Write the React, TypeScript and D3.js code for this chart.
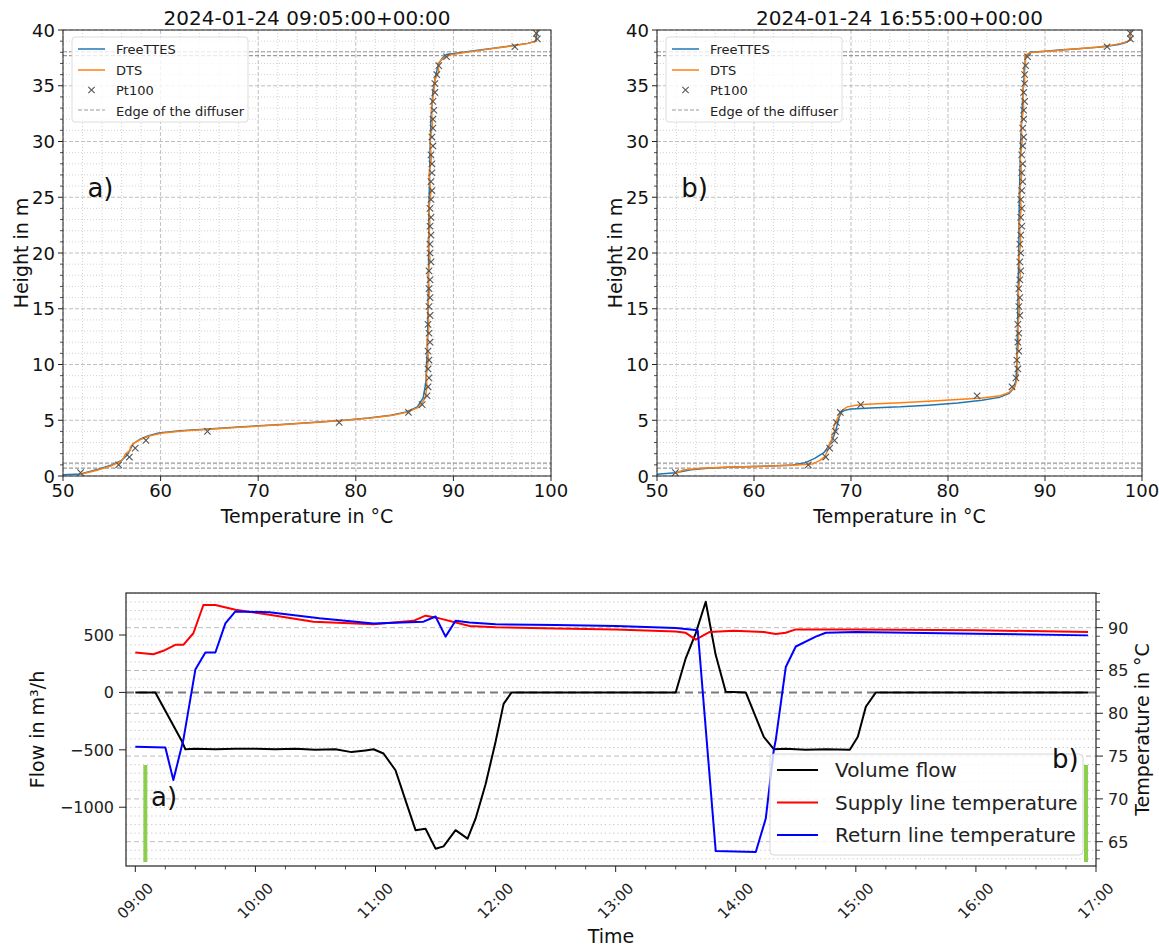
import React from "react";
import * as d3 from "d3";

const FONT = "DejaVu Sans, Verdana, sans-serif";

// ---- stratification profiles: [height in m, temperature in °C] ----
const freeA: [number, number][] = [
  [0.12, 50.0], [0.18, 51.8], [0.6, 53.6], [1.0, 55.0], [1.4, 56.0], [1.9, 56.6], [2.4, 56.9],
  [2.9, 57.2], [3.3, 57.9], [3.6, 58.7], [3.85, 59.8], [4.05, 62.0], [4.2, 64.5], [4.4, 68.0],
  [4.6, 72.0], [4.8, 75.5], [5.0, 78.8], [5.2, 81.3], [5.45, 83.6], [5.75, 85.2], [6.2, 86.3],
  [7.0, 86.9], [8.5, 87.2], [12, 87.35], [18, 87.45], [24, 87.5], [29, 87.6], [32, 87.7],
  [34.5, 87.9], [36, 88.2], [37.0, 88.5], [37.5, 88.9], [37.8, 89.3], [38.0, 91.0], [38.2, 92.7],
  [38.4, 94.5], [38.6, 96.1], [38.8, 97.6], [39.0, 98.4], [39.3, 98.5], [40, 98.6],
];
const dtsA: [number, number][] = [
  [0.15, 51.8], [0.5, 53.4], [0.9, 54.9], [1.3, 55.9], [1.6, 56.2], [2.0, 56.4], [2.3, 56.9],
  [2.6, 56.9], [2.9, 57.2], [3.3, 58.0], [3.6, 58.9], [3.85, 60.2], [4.05, 62.5], [4.2, 65.0],
  [4.4, 68.5], [4.6, 72.3], [4.8, 75.7], [5.0, 79.0], [5.2, 81.5], [5.45, 83.8], [5.75, 85.4],
  [6.2, 86.5], [7.0, 87.1], [8.0, 87.3], [9.0, 87.2], [10.5, 87.45], [12, 87.3], [13.5, 87.5],
  [15, 87.35], [16.5, 87.55], [18, 87.4], [19.5, 87.6], [21, 87.4], [22.5, 87.6], [24, 87.5],
  [25.5, 87.7], [27, 87.5], [28.5, 87.75], [30, 87.6], [31.5, 87.85], [33, 87.75], [34.5, 88.0],
  [35.5, 88.1], [36.3, 88.5], [37.0, 88.4], [37.5, 89.0], [37.75, 89.6], [37.95, 91.0],
  [38.15, 92.5], [38.4, 94.6], [38.6, 96.3], [38.8, 97.7], [39.0, 98.5], [39.2, 98.5],
  [39.5, 98.3], [40, 98.7],
];
const freeB: [number, number][] = [
  [0.15, 50.0], [0.3, 51.9], [0.55, 53.5], [0.72, 55.5], [0.8, 58.0], [0.88, 61.0], [0.99, 64.0],
  [1.2, 65.3], [1.6, 66.3], [2.1, 67.2], [2.8, 67.8], [3.5, 68.2], [4.3, 68.5], [5.2, 68.75],
  [5.7, 69.0], [5.9, 69.4], [6.0, 70.0], [6.1, 72.0], [6.2, 75.1], [6.35, 78.0], [6.55, 81.0],
  [6.8, 83.5], [7.05, 85.3], [7.4, 86.3], [7.9, 86.8], [8.6, 87.0], [10, 87.1], [15, 87.2],
  [20, 87.3], [25, 87.35], [30, 87.5], [34, 87.7], [36.5, 87.9], [37.6, 88.0], [38.0, 88.5],
  [38.1, 90.0], [38.2, 91.5], [38.35, 93.8], [38.5, 96.0], [38.7, 97.6], [38.9, 98.4],
  [39.1, 98.8], [40, 98.8],
];
const dtsB: [number, number][] = [
  [0.22, 51.9], [0.54, 52.7], [0.7, 54.5], [0.78, 57.0], [0.85, 60.0], [0.95, 63.5], [1.07, 66.0],
  [1.4, 66.8], [1.73, 67.3], [2.3, 67.6], [2.93, 67.8], [3.4, 68.1], [3.7, 68.0], [4.0, 68.3],
  [4.3, 68.2], [4.57, 68.3], [4.87, 68.4], [5.3, 68.7], [5.77, 68.9], [6.2, 69.6], [6.35, 70.5],
  [6.43, 71.6], [6.57, 75.1], [6.7, 78.0], [6.85, 81.0], [7.0, 83.5], [7.2, 85.4], [7.5, 86.3],
  [8.0, 86.9], [9.0, 87.2], [10.5, 87.1], [12, 87.3], [13.5, 87.2], [15, 87.4], [16.5, 87.25],
  [18, 87.45], [19.5, 87.3], [21, 87.5], [22.5, 87.35], [24, 87.55], [25.5, 87.4], [27, 87.6],
  [28.5, 87.45], [30, 87.65], [31.5, 87.55], [33, 87.8], [34.5, 87.7], [35.5, 87.9], [36.5, 87.8],
  [37.2, 88.0], [37.7, 87.9], [37.95, 88.4], [38.05, 89.5], [38.15, 91.0], [38.3, 93.0],
  [38.45, 95.3], [38.6, 96.7], [38.8, 97.8], [39.0, 98.6], [39.3, 98.9], [39.6, 98.7], [40, 99.0],
];

// Pt100 sensor heights and readings
const sensorHeights = [
  0.3, 1.0, 1.7, 2.5, 3.2, 4.0, 4.8, 5.7, 6.4, 7.2, 8.0, 8.8, 9.6, 10.4, 11.2, 12.0, 12.8, 13.6,
  14.4, 15.2, 16.0, 16.8, 17.6, 18.4, 19.2, 20.0, 20.8, 21.6, 22.4, 23.2, 24.0, 24.8, 25.6, 26.4,
  27.2, 28.0, 28.8, 29.6, 30.4, 31.2, 32.0, 32.8, 33.6, 34.4, 35.2, 36.0, 36.8, 37.6, 38.5, 39.2, 39.7,
];
const pt100A = [
  51.8, 55.7, 56.8, 57.4, 58.5, 64.8, 78.3, 85.4, 86.8, 87.3, 87.4, 87.5, 87.4, 87.5, 87.4, 87.6,
  87.5, 87.4, 87.6, 87.5, 87.6, 87.5, 87.6, 87.5, 87.7, 87.6, 87.6, 87.7, 87.6, 87.7, 87.6, 87.7,
  87.8, 87.7, 87.8, 87.8, 87.7, 87.9, 87.8, 87.9, 87.9, 88.0, 87.9, 88.1, 88.1, 88.3, 88.5, 89.3,
  96.3, 98.6, 98.5,
];
const pt100B = [
  51.9, 65.6, 67.4, 67.8, 68.3, 68.4, 68.5, 68.9, 71.0, 83.0, 86.6, 87.0, 87.2, 87.1, 87.3, 87.2,
  87.3, 87.2, 87.4, 87.3, 87.4, 87.3, 87.4, 87.5, 87.4, 87.5, 87.4, 87.5, 87.6, 87.5, 87.6, 87.5,
  87.6, 87.7, 87.6, 87.7, 87.6, 87.7, 87.8, 87.7, 87.8, 87.8, 87.9, 87.8, 87.9, 87.9, 88.0, 88.2,
  96.4, 98.8, 98.8,
];
const diffuserEdges = [0.7, 1.15, 37.7, 38.05];

// ---- loading / unloading day ----
const flow: [string, number][] = [
  ["09:00", 0], ["09:10", 0], ["09:23", -416], ["09:25", -495], ["09:30", -490], ["09:40", -495],
  ["09:50", -490], ["10:00", -490], ["10:10", -495], ["10:20", -490], ["10:30", -500],
  ["10:40", -495], ["10:48", -520], ["10:55", -505], ["10:59", -495], ["11:04", -532],
  ["11:10", -678], ["11:15", -940], ["11:20", -1200], ["11:25", -1187], ["11:30", -1361],
  ["11:34", -1341], ["11:40", -1200], ["11:46", -1274], ["11:50", -1100], ["11:55", -800],
  ["12:00", -430], ["12:04", -100], ["12:08", 0], ["13:30", 0], ["13:35", 297], ["13:40", 515],
  ["13:45", 790], ["13:50", 325], ["13:55", 5], ["14:05", 0], ["14:14", -387], ["14:19", -495],
  ["14:25", -490], ["14:35", -500], ["14:45", -495], ["14:57", -500], ["15:01", -387],
  ["15:05", -125], ["15:10", 0], ["16:56", 0],
];
const supply: [string, number][] = [
  ["09:00", 87.1], ["09:09", 86.9], ["09:14", 87.3], ["09:20", 88.0], ["09:24", 88.0],
  ["09:29", 89.35], ["09:34", 92.65], ["09:40", 92.65], ["09:50", 92.1], ["10:07", 91.5],
  ["10:29", 90.7], ["10:59", 90.4], ["11:19", 90.8], ["11:25", 91.4], ["11:30", 91.2],
  ["11:47", 90.2], ["12:00", 90.05], ["12:30", 89.9], ["13:00", 89.8], ["13:30", 89.55],
  ["13:35", 89.4], ["13:40", 88.6], ["13:47", 89.5], ["13:59", 89.65], ["14:14", 89.5],
  ["14:20", 89.25], ["14:25", 89.4], ["14:30", 89.8], ["15:00", 89.8], ["16:00", 89.7],
  ["16:56", 89.5],
];
const ret: [string, number][] = [
  ["09:00", 76.1], ["09:15", 76.0], ["09:19", 72.2], ["09:24", 76.9], ["09:30", 85.1],
  ["09:35", 87.1], ["09:40", 87.1], ["09:45", 90.5], ["09:50", 91.9], ["10:07", 91.8],
  ["10:32", 91.1], ["10:59", 90.5], ["11:24", 90.7], ["11:30", 91.3], ["11:35", 88.95],
  ["11:40", 90.8], ["11:47", 90.6], ["12:00", 90.4], ["12:30", 90.3], ["13:00", 90.2],
  ["13:30", 89.95], ["13:41", 89.7], ["13:50", 63.9], ["14:10", 63.8], ["14:15", 67.7],
  ["14:19", 75.7], ["14:20", 76.9], ["14:25", 85.4], ["14:30", 87.8], ["14:40", 88.95],
  ["14:45", 89.4], ["15:00", 89.5], ["16:00", 89.3], ["16:56", 89.1],
];
const snapshotTimes = ["09:05", "16:55"];
const hourTicks = ["09:00", "10:00", "11:00", "12:00", "13:00", "14:00", "15:00", "16:00", "17:00"];
const flowTicks = [-1000, -500, 0, 500];
const tempTicks = [65, 70, 75, 80, 85, 90];

const toMin = (s: string) => {
  const [h, m] = s.split(":").map(Number);
  return (h - 9) * 60 + m;
};
const fmtNum = (v: number) => (v < 0 ? "\u2212" + Math.abs(v) : String(v));

function Cross({ x, y }: { x: number; y: number }) {
  const r = 3.2;
  return (
    <g stroke="#555" strokeWidth={1.1}>
      <line x1={x - r} y1={y - r} x2={x + r} y2={y + r} />
      <line x1={x - r} y1={y + r} x2={x + r} y2={y - r} />
    </g>
  );
}

function Profile({ x0, x1, title, tag, free, dts, pt, id }: {
  x0: number; x1: number; title: string; tag: string;
  free: [number, number][]; dts: [number, number][]; pt: number[]; id: string;
}) {
  const top = 30, bottom = 476;
  const x = d3.scaleLinear().domain([50, 100]).range([x0, x1]);
  const y = d3.scaleLinear().domain([0, 40]).range([bottom, top]);
  const line = d3.line<[number, number]>().x((d) => x(d[1])).y((d) => y(d[0]));
  const xMinor = d3.range(52, 100, 2).filter((v) => v % 10 !== 0);
  const xMajor = d3.range(50, 101, 10);
  const yMinor = d3.range(1, 40, 1).filter((v) => v % 5 !== 0);
  const yMajor = d3.range(0, 41, 5);
  const lx = x0 + 9, ly = 37;
  const cx = (x0 + x1) / 2;
  return (
    <g fontFamily={FONT}>
      <defs>
        <clipPath id={id}>
          <rect x={x0} y={top} width={x1 - x0} height={bottom - top} />
        </clipPath>
      </defs>
      <rect x={x0} y={top} width={x1 - x0} height={bottom - top} fill="white" />
      {xMinor.map((v) => (
        <line key={"xm" + v} x1={x(v)} x2={x(v)} y1={top} y2={bottom} stroke="#c8c8c8" strokeWidth={0.8} strokeDasharray="1,2" />
      ))}
      {yMinor.map((v) => (
        <line key={"ym" + v} x1={x0} x2={x1} y1={y(v)} y2={y(v)} stroke="#c8c8c8" strokeWidth={0.8} strokeDasharray="1,2" />
      ))}
      {xMajor.map((v) => (
        <line key={"xM" + v} x1={x(v)} x2={x(v)} y1={top} y2={bottom} stroke="#b8b8b8" strokeWidth={0.9} strokeDasharray="4,2" />
      ))}
      {yMajor.map((v) => (
        <line key={"yM" + v} x1={x0} x2={x1} y1={y(v)} y2={y(v)} stroke="#b8b8b8" strokeWidth={0.9} strokeDasharray="4,2" />
      ))}
      <g clipPath={`url(#${id})`}>
        {diffuserEdges.map((h) => (
          <line key={"d" + h} x1={x0} x2={x1} y1={y(h)} y2={y(h)} stroke="#999" strokeWidth={1.2} strokeDasharray="4,2" />
        ))}
        <path d={line(free) ?? ""} fill="none" stroke="#1f77b4" strokeWidth={1.5} />
        <path d={line(dts) ?? ""} fill="none" stroke="#ff7f0e" strokeWidth={1.5} />
        {sensorHeights.map((h, i) => (
          <Cross key={"p" + i} x={x(pt[i])} y={y(h)} />
        ))}
      </g>
      <rect x={x0} y={top} width={x1 - x0} height={bottom - top} fill="none" stroke="#222" strokeWidth={1} />
      {/* ticks */}
      {xMajor.map((v) => (
        <g key={"xt" + v}>
          <line x1={x(v)} x2={x(v)} y1={bottom} y2={bottom + 5} stroke="#222" />
          <text x={x(v)} y={bottom + 21} textAnchor="middle" fontSize={18} fill="#111">{v}</text>
        </g>
      ))}
      {yMinor.map((v) => (
        <line key={"ytm" + v} x1={x0 - 3} x2={x0} y1={y(v)} y2={y(v)} stroke="#222" strokeWidth={0.8} />
      ))}
      {yMajor.map((v) => (
        <g key={"yt" + v}>
          <line x1={x0 - 5} x2={x0} y1={y(v)} y2={y(v)} stroke="#222" />
          <text x={x0 - 8} y={y(v) + 6.5} textAnchor="end" fontSize={18} fill="#111">{v}</text>
        </g>
      ))}
      <text x={cx} y={25} textAnchor="middle" fontSize={20} fill="#111">{title}</text>
      <text x={cx} y={523} textAnchor="middle" fontSize={19} fill="#111">Temperature in °C</text>
      <text transform={`translate(${x0 - 35},${(top + bottom) / 2}) rotate(-90)`} textAnchor="middle" fontSize={19} fill="#111">Height in m</text>
      <text x={x(52.5)} y={y(25)} fontSize={26} fill="#111">{tag}</text>
      {/* legend */}
      <rect x={lx} y={ly} width={176} height={85} rx={3} fill="white" fillOpacity={0.8} stroke="#ddd" />
      <line x1={lx + 6} x2={lx + 33} y1={ly + 12} y2={ly + 12} stroke="#1f77b4" strokeWidth={1.5} />
      <line x1={lx + 6} x2={lx + 33} y1={ly + 33} y2={ly + 33} stroke="#ff7f0e" strokeWidth={1.5} />
      <Cross x={lx + 19.5} y={ly + 53} />
      <line x1={lx + 6} x2={lx + 33} y1={ly + 73} y2={ly + 73} stroke="#999" strokeWidth={1.2} strokeDasharray="4,2" />
      {["FreeTTES", "DTS", "Pt100", "Edge of the diffuser"].map((t, i) => (
        <text key={t} x={lx + 44} y={ly + 17 + i * 20.5} fontSize={13} fill="#222">{t}</text>
      ))}
    </g>
  );
}

function Timeline() {
  const left = 126, right = 1096, top = 593, bottom = 866;
  const x = d3.scaleLinear().domain([-4.66, 480]).range([left, right]);
  const yF = d3.scaleLinear().domain([-1512, 866]).range([bottom, top]);
  const yT = d3.scaleLinear().domain([62.16, 94.05]).range([bottom, top]);
  const fLine = d3.line<[string, number]>().x((d) => x(toMin(d[0]))).y((d) => yF(d[1]));
  const tLine = d3.line<[string, number]>().x((d) => x(toMin(d[0]))).y((d) => yT(d[1]));
  const gridT = d3.range(63, 95, 1);
  const minorX = d3.range(15, 480, 15).filter((m) => m % 60 !== 0);
  const lgX = 770, lgY = 754;
  const bar = (t: string) => x(toMin(t));
  return (
    <g fontFamily={FONT}>
      <defs>
        <clipPath id="tl">
          <rect x={left} y={top} width={right - left} height={bottom - top} />
        </clipPath>
      </defs>
      <rect x={left} y={top} width={right - left} height={bottom - top} fill="white" />
      {gridT.map((v) => (
        <line key={"g" + v} x1={left} x2={right} y1={yT(v)} y2={yT(v)} stroke="#bdbdbd" strokeWidth={v % 5 === 0 ? 1 : 0.9}
          strokeDasharray={v % 5 === 0 ? "5,3" : "1.2,3"} />
      ))}
      <g clipPath="url(#tl)">
        <line x1={left} x2={right} y1={yF(0)} y2={yF(0)} stroke="#7a7a7a" strokeWidth={2} strokeDasharray="8,5" />
        <path d={fLine(flow) ?? ""} fill="none" stroke="black" strokeWidth={2} strokeLinejoin="round" />
        <path d={tLine(supply) ?? ""} fill="none" stroke="red" strokeWidth={2} strokeLinejoin="round" />
        <path d={tLine(ret) ?? ""} fill="none" stroke="blue" strokeWidth={2} strokeLinejoin="round" />
      </g>
      {/* legend */}
      <rect x={lgX} y={lgY} width={313} height={101} rx={4} fill="white" fillOpacity={0.8} stroke="#d6d6d6" />
      {[["Volume flow", "black"], ["Supply line temperature", "red"], ["Return line temperature", "blue"]].map(([t, c], i) => (
        <g key={t}>
          <line x1={lgX + 7} x2={lgX + 48} y1={lgY + 16 + i * 32.5} y2={lgY + 16 + i * 32.5} stroke={c} strokeWidth={2} />
          <text x={lgX + 65} y={lgY + 23 + i * 32.5} fontSize={20} fill="#222">{t}</text>
        </g>
      ))}
      {snapshotTimes.map((t) => (
        <line key={t} x1={bar(t)} x2={bar(t)} y1={top + (bottom - top) * 0.63} y2={bottom - 4} stroke="#8ccf4d" strokeWidth={4} />
      ))}
      <text x={151} y={806} fontSize={26} fill="#111">a)</text>
      <text x={1052} y={768} fontSize={26} fill="#111">b)</text>
      <rect x={left} y={top} width={right - left} height={bottom - top} fill="none" stroke="#222" strokeWidth={1.2} />
      {/* x axis */}
      {minorX.map((m) => (
        <line key={"mx" + m} x1={x(m)} x2={x(m)} y1={bottom} y2={bottom + 3.5} stroke="#222" strokeWidth={0.8} />
      ))}
      {hourTicks.map((t) => (
        <g key={t}>
          <line x1={x(toMin(t))} x2={x(toMin(t))} y1={bottom} y2={bottom + 6} stroke="#222" />
          <text transform={`translate(${x(toMin(t))},${901}) rotate(-45)`} textAnchor="middle" dominantBaseline="central" fontSize={15} fill="#222">{t}</text>
        </g>
      ))}
      <text x={(left + right) / 2} y={943} textAnchor="middle" fontSize={19} fill="#111">Time</text>
      {/* left axis */}
      {flowTicks.map((v) => (
        <g key={"f" + v}>
          <line x1={left - 7} x2={left} y1={yF(v)} y2={yF(v)} stroke="#222" />
          <text x={left - 12} y={yF(v) + 6} textAnchor="end" fontSize={16} fill="#222">{fmtNum(v)}</text>
        </g>
      ))}
      <text transform={`translate(44,${(top + bottom) / 2}) rotate(-90)`} textAnchor="middle" fontSize={19} fill="#111">Flow in m³/h</text>
      {/* right axis */}
      {gridT.filter((v) => v % 5 !== 0).map((v) => (
        <line key={"rm" + v} x1={right} x2={right + 4} y1={yT(v)} y2={yT(v)} stroke="#222" strokeWidth={0.8} />
      ))}
      {tempTicks.map((v) => (
        <g key={"t" + v}>
          <line x1={right} x2={right + 7} y1={yT(v)} y2={yT(v)} stroke="#222" />
          <text x={right + 12} y={yT(v) + 6} fontSize={16} fill="#222">{v}</text>
        </g>
      ))}
      <text transform={`translate(1149,${(top + bottom) / 2}) rotate(-90)`} textAnchor="middle" fontSize={19} fill="#111">Temperature in °C</text>
    </g>
  );
}

export default function App() {
  return (
    <svg width={1159} height={949} style={{ position: "absolute", left: 0, top: 0, background: "white" }}>
      <rect width={1159} height={949} fill="white" />
      <Profile id="pa" x0={63} x1={551} title="2024-01-24 09:05:00+00:00" tag="a)" free={freeA} dts={dtsA} pt={pt100A} />
      <Profile id="pb" x0={657} x1={1142} title="2024-01-24 16:55:00+00:00" tag="b)" free={freeB} dts={dtsB} pt={pt100B} />
      <Timeline />
    </svg>
  );
}
